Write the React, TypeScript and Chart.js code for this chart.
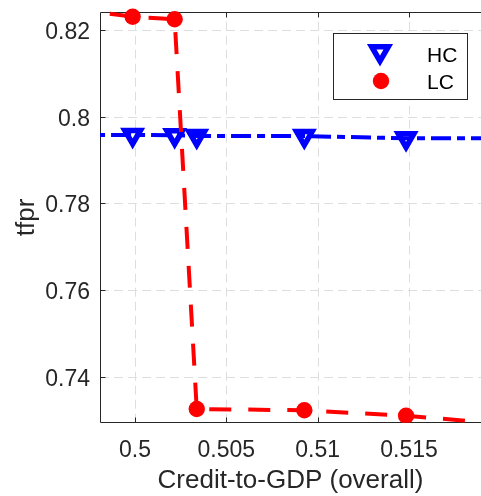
import { useEffect, useRef } from 'react';
import { Chart, registerables } from 'chart.js';

Chart.register(...registerables);

// Data (credit-to-GDP on x, tfpr on y). First/last points lie just outside the visible window.
const X_VALUES = [0.4965, 0.49987, 0.50217, 0.50338, 0.50927, 0.51484, 0.5205];
const HC_VALUES = [0.79584, 0.79584, 0.79577, 0.79557, 0.79557, 0.79506, 0.79506];
const LC_VALUES = [0.82492, 0.82314, 0.82254, 0.73254, 0.73224, 0.73099, 0.72898];
const SERIES_NAMES = ['HC', 'LC'];
const X_TICKS = [0.5, 0.505, 0.51, 0.515];
const Y_TICKS = [0.74, 0.76, 0.78, 0.8, 0.82];
const X_RANGE = [0.498084, 0.518942];
const Y_RANGE = [0.729376, 0.824226];
const X_TITLE = 'Credit-to-GDP (overall)';
const Y_TITLE = 'tfpr';

const FONT = '"Liberation Sans", Arial, Helvetica, sans-serif';
const TEXT_COLOR = '#262626';
const AXIS_COLOR = '#262626';
const GRID_COLOR = '#dedede';
const BLUE = '#0000ff';
const RED = '#ff0000';
const TRI_R = 9;
const TRI_W = 5.5;
const DOT_R = 8.2;

function drawTriangleDown(ctx: CanvasRenderingContext2D, cx: number, cy: number, r: number) {
  ctx.beginPath();
  for (let i = 0; i < 3; i++) {
    const ang = Math.PI + (i * 2 * Math.PI) / 3;
    const px = cx + Math.sin(ang) * r;
    const py = cy - Math.cos(ang) * r;
    if (i === 0) ctx.moveTo(px, py);
    else ctx.lineTo(px, py);
  }
  ctx.closePath();
}

const framePlugin = {
  id: 'matlabFrame',
  beforeDatasetsDraw(chart: any) {
    const { ctx, chartArea: a, scales } = chart;
    const x = scales.x;
    const y = scales.y;
    ctx.save();
    ctx.lineWidth = 1;
    ctx.strokeStyle = GRID_COLOR;
    ctx.setLineDash([9, 5]);
    for (const v of X_TICKS) {
      const px = Math.round(x.getPixelForValue(v)) + 0.5;
      ctx.beginPath();
      ctx.moveTo(px, a.bottom);
      ctx.lineTo(px, a.top);
      ctx.stroke();
    }
    for (const v of Y_TICKS) {
      const py = Math.round(y.getPixelForValue(v)) + 0.5;
      ctx.beginPath();
      ctx.moveTo(a.left, py);
      ctx.lineTo(a.right, py);
      ctx.stroke();
    }
    ctx.setLineDash([]);
    ctx.strokeStyle = AXIS_COLOR;
    const L = Math.floor(a.left) + 0.5;
    const T = Math.floor(a.top) + 0.5;
    const B = Math.floor(a.bottom) + 0.5;
    ctx.beginPath();
    ctx.moveTo(a.right, T);
    ctx.lineTo(L, T);
    ctx.lineTo(L, B);
    ctx.lineTo(a.right, B);
    ctx.stroke();
    const tl = 5;
    ctx.beginPath();
    for (const v of X_TICKS) {
      const px = Math.round(x.getPixelForValue(v)) + 0.5;
      ctx.moveTo(px, B);
      ctx.lineTo(px, B - tl);
      ctx.moveTo(px, T);
      ctx.lineTo(px, T + tl);
    }
    for (const v of Y_TICKS) {
      const py = Math.round(y.getPixelForValue(v)) + 0.5;
      ctx.moveTo(L, py);
      ctx.lineTo(L + tl, py);
    }
    ctx.stroke();
    ctx.restore();
  },
  afterDraw(chart: any) {
    const { ctx } = chart;
    ctx.save();
    // legend box
    const bx = 333, by = 33, bw = 134, bh = 66;
    ctx.fillStyle = '#ffffff';
    ctx.fillRect(bx, by, bw, bh);
    ctx.strokeStyle = AXIS_COLOR;
    ctx.lineWidth = 1;
    ctx.strokeRect(bx + 0.5, by + 0.5, bw, bh);
    // HC marker
    drawTriangleDown(ctx, 380, 51.5, 9.6);
    ctx.strokeStyle = BLUE;
    ctx.lineWidth = TRI_W;
    ctx.stroke();
    // LC marker
    ctx.beginPath();
    ctx.arc(381, 81, DOT_R, 0, Math.PI * 2);
    ctx.fillStyle = RED;
    ctx.fill();
    ctx.fillStyle = '#000000';
    ctx.font = `21px ${FONT}`;
    ctx.textAlign = 'left';
    ctx.textBaseline = 'alphabetic';
    ctx.fillText(SERIES_NAMES[0], 427, 61.7);
    ctx.fillText(SERIES_NAMES[1], 427, 89.3);
    ctx.restore();
  },
};

export default function App() {
  const ref = useRef<HTMLCanvasElement | null>(null);

  useEffect(() => {
    const canvas = ref.current;
    if (!canvas) return;
    const hcData = X_VALUES.map((v, i) => ({ x: v, y: HC_VALUES[i] }));
    const lcData = X_VALUES.map((v, i) => ({ x: v, y: LC_VALUES[i] }));
    const chart = new Chart(canvas, {
      type: 'line',
      data: {
        datasets: [
          {
            label: SERIES_NAMES[0],
            data: hcData,
            order: 1,
            borderColor: BLUE,
            borderWidth: 4,
            borderDash: [20, 6, 8, 6],
            borderCapStyle: 'butt',
            tension: 0,
            fill: false,
            pointStyle: 'triangle',
            pointRotation: 180,
            pointRadius: TRI_R,
            pointBorderWidth: TRI_W,
            pointBorderColor: BLUE,
            pointBackgroundColor: 'rgba(0,0,0,0)',
            clip: { left: 0, top: 0, right: 0, bottom: 0 },
          } as any,
          {
            label: SERIES_NAMES[1],
            data: lcData,
            order: 0,
            borderColor: RED,
            borderWidth: 4,
            borderDash: [22, 17],
            borderCapStyle: 'butt',
            tension: 0,
            fill: false,
            pointStyle: 'circle',
            pointRadius: DOT_R,
            pointBorderWidth: 0,
            pointBorderColor: RED,
            pointBackgroundColor: RED,
            clip: { left: 0, top: 12, right: 0, bottom: 0 },
          } as any,
        ],
      },
      options: {
        animation: false,
        responsive: false,
        devicePixelRatio: 1,
        events: [],
        layout: { autoPadding: false, padding: { top: 12, left: 0, right: 0, bottom: 0 } },
        plugins: {
          legend: { display: false },
          tooltip: { enabled: false },
          title: { display: false },
        },
        scales: {
          x: {
            type: 'linear',
            min: X_RANGE[0],
            max: X_RANGE[1],
            afterBuildTicks: (s: any) => {
              s.ticks = X_TICKS.map((v) => ({ value: v }));
            },
            afterFit: (s: any) => {
              s.height = 73.3;
              s.paddingLeft = 0;
              s.paddingRight = 0;
            },
            grid: { display: false, drawTicks: false },
            border: { display: false },
            ticks: {
              autoSkip: false,
              maxRotation: 0,
              minRotation: 0,
              padding: 14,
              color: TEXT_COLOR,
              font: { family: FONT, size: 23 },
              callback: (v: any) => String(v),
            },
            title: {
              display: true,
              text: X_TITLE,
              color: TEXT_COLOR,
              font: { family: FONT, size: 26 },
              padding: { top: 0, bottom: 0 },
            },
          },
          y: {
            type: 'linear',
            min: Y_RANGE[0],
            max: Y_RANGE[1],
            afterBuildTicks: (s: any) => {
              s.ticks = Y_TICKS.map((v) => ({ value: v }));
            },
            afterFit: (s: any) => {
              s.width = 100;
              s.paddingTop = 0;
              s.paddingBottom = 0;
            },
            grid: { display: false, drawTicks: false },
            border: { display: false },
            ticks: {
              autoSkip: false,
              padding: 10,
              labelOffset: 2.5,
              color: TEXT_COLOR,
              font: { family: FONT, size: 23 },
              callback: (v: any) => String(v),
            },
            title: {
              display: true,
              text: Y_TITLE,
              color: TEXT_COLOR,
              font: { family: FONT, size: 26 },
              padding: { top: 11, bottom: 0 },
            },
          },
        },
      } as any,
      plugins: [framePlugin],
    });
    return () => chart.destroy();
  }, []);

  return (
    <div
      style={{
        position: 'fixed',
        left: 0,
        top: 0,
        width: 481,
        height: 496,
        overflow: 'hidden',
        background: '#ffffff',
      }}
    >
      <canvas ref={ref} width={481} height={496} style={{ display: 'block' }} />
    </div>
  );
}
